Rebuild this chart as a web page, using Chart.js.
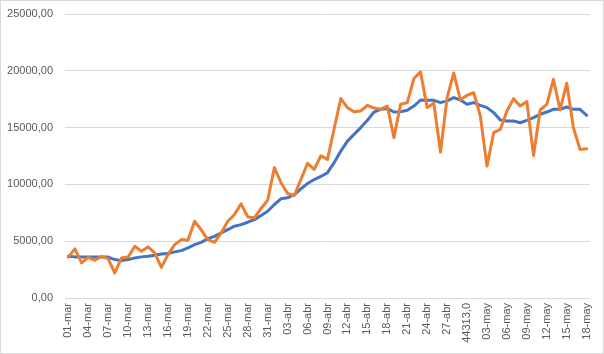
<!DOCTYPE html>
<html>
<head>
<meta charset="utf-8">
<script src="https://cdn.jsdelivr.net/npm/chart.js@4/dist/chart.umd.min.js"></script>
<style>
  html, body { margin: 0; padding: 0; background: #fff; }
  #wrap { position: relative; width: 604px; height: 354px; }
  #c { position: absolute; left: 0; top: 0; }
  #frame { position: absolute; left: 0; top: 0; width: 602px; height: 352px; border: 1px solid #d9d9d9; pointer-events: none; }
</style>
</head>
<body>
<div id="wrap">
  <canvas id="c" width="604" height="354"></canvas>
  <div id="frame"></div>
</div>
<script>
const categories = [
  "01-mar","02-mar","03-mar","04-mar","05-mar","06-mar","07-mar","08-mar","09-mar","10-mar",
  "11-mar","12-mar","13-mar","14-mar","15-mar","16-mar","17-mar","18-mar","19-mar","20-mar",
  "21-mar","22-mar","23-mar","24-mar","25-mar","26-mar","27-mar","28-mar","29-mar","30-mar",
  "31-mar","01-abr","02-abr","03-abr","04-abr","05-abr","06-abr","07-abr","08-abr","09-abr",
  "10-abr","11-abr","12-abr","13-abr","14-abr","15-abr","16-abr","17-abr","18-abr","19-abr",
  "20-abr","21-abr","22-abr","23-abr","24-abr","25-abr","26-abr","27-abr","28-abr","29-abr",
  "44313,0","01-may","02-may","03-may","04-may","05-may","06-may","07-may","08-may","09-may",
  "10-may","11-may","12-may","13-may","14-may","15-may","16-may","17-may","18-may"
];

const dailyValues = [
  3600,4320,3090,3580,3320,3670,3440,2200,3530,3600,
  4550,4110,4500,3970,2700,3820,4700,5140,5080,6760,
  6000,5140,4900,5730,6760,7350,8290,7140,7060,7880,
  8610,11470,10150,9200,9020,10430,11850,11320,12520,12200,
  14900,17560,16760,16400,16460,16960,16720,16610,16900,14110,
  17050,17200,19320,19900,16760,17140,12840,17640,19800,17430,
  17840,18080,16020,11610,14550,14840,16460,17550,16900,17290,
  12550,16550,17050,19250,16550,18900,15000,13080,13140
];

const averageValues = [
  3670,3620,3600,3600,3600,3620,3600,3380,3290,3380,
  3530,3620,3670,3760,3880,3910,4060,4170,4410,4700,
  4900,5230,5430,5730,6020,6320,6460,6670,6900,7260,
  7640,8230,8730,8820,9110,9610,10080,10430,10700,11030,
  11910,12930,13810,14400,15000,15640,16370,16610,16670,16370,
  16400,16520,16900,17430,17400,17400,17200,17350,17640,17430,
  17050,17200,16960,16760,16320,15660,15580,15580,15430,15640,
  15880,16170,16370,16610,16610,16810,16610,16610,16080
];

const yTicks = [0, 5000, 10000, 15000, 20000, 25000];
const labelEvery = 3;

const fontFamily = "'Liberation Sans', Arial, sans-serif";

new Chart(document.getElementById('c'), {
  type: 'line',
  data: {
    labels: categories,
    datasets: [
      {
        label: 'Diario',
        data: dailyValues,
        borderColor: '#ED7D31',
        backgroundColor: '#ED7D31',
        borderWidth: 3,
        pointRadius: 0,
        tension: 0,
        borderJoinStyle: 'round',
        borderCapStyle: 'round',
        order: 0
      },
      {
        label: 'Media',
        data: averageValues,
        borderColor: '#4472C4',
        backgroundColor: '#4472C4',
        borderWidth: 3,
        pointRadius: 0,
        tension: 0,
        borderJoinStyle: 'round',
        borderCapStyle: 'round',
        order: 1
      }
    ]
  },
  options: {
    responsive: false,
    animation: false,
    layout: { padding: { left: 0, right: 14, top: 14, bottom: 0 } },
    plugins: { legend: { display: false }, tooltip: { enabled: false } },
    scales: {
      x: {
        type: 'category',
        offset: true,
        grid: { display: false, drawTicks: false },
        border: { display: false },
        ticks: {
          autoSkip: false,
          maxRotation: 90,
          minRotation: 90,
          padding: 5,
          color: '#595959',
          font: { family: fontFamily, size: 11 },
          callback: function (value, index) {
            return index % labelEvery === 0 ? categories[index] : '';
          }
        },
        afterFit: function (scale) {
          scale.height = 56;
          scale.paddingTop = 0; scale.paddingBottom = 0;
          scale.paddingLeft = 0; scale.paddingRight = 0;
        }
      },
      y: {
        min: yTicks[0],
        max: yTicks[yTicks.length - 1],
        afterBuildTicks: function (scale) {
          scale.ticks = yTicks.map(v => ({ value: v }));
        },
        grid: { color: '#d9d9d9', lineWidth: 1, drawTicks: false },
        border: { display: false },
        ticks: {
          padding: 12,
          color: '#595959',
          font: { family: fontFamily, size: 11 },
          callback: function (value) {
            return value.toFixed(2).replace('.', ',');
          }
        },
        afterFit: function (scale) {
          scale.width = 65;
          scale.paddingTop = 0; scale.paddingBottom = 0;
        }
      }
    }
  }
});
</script>
</body>
</html>
